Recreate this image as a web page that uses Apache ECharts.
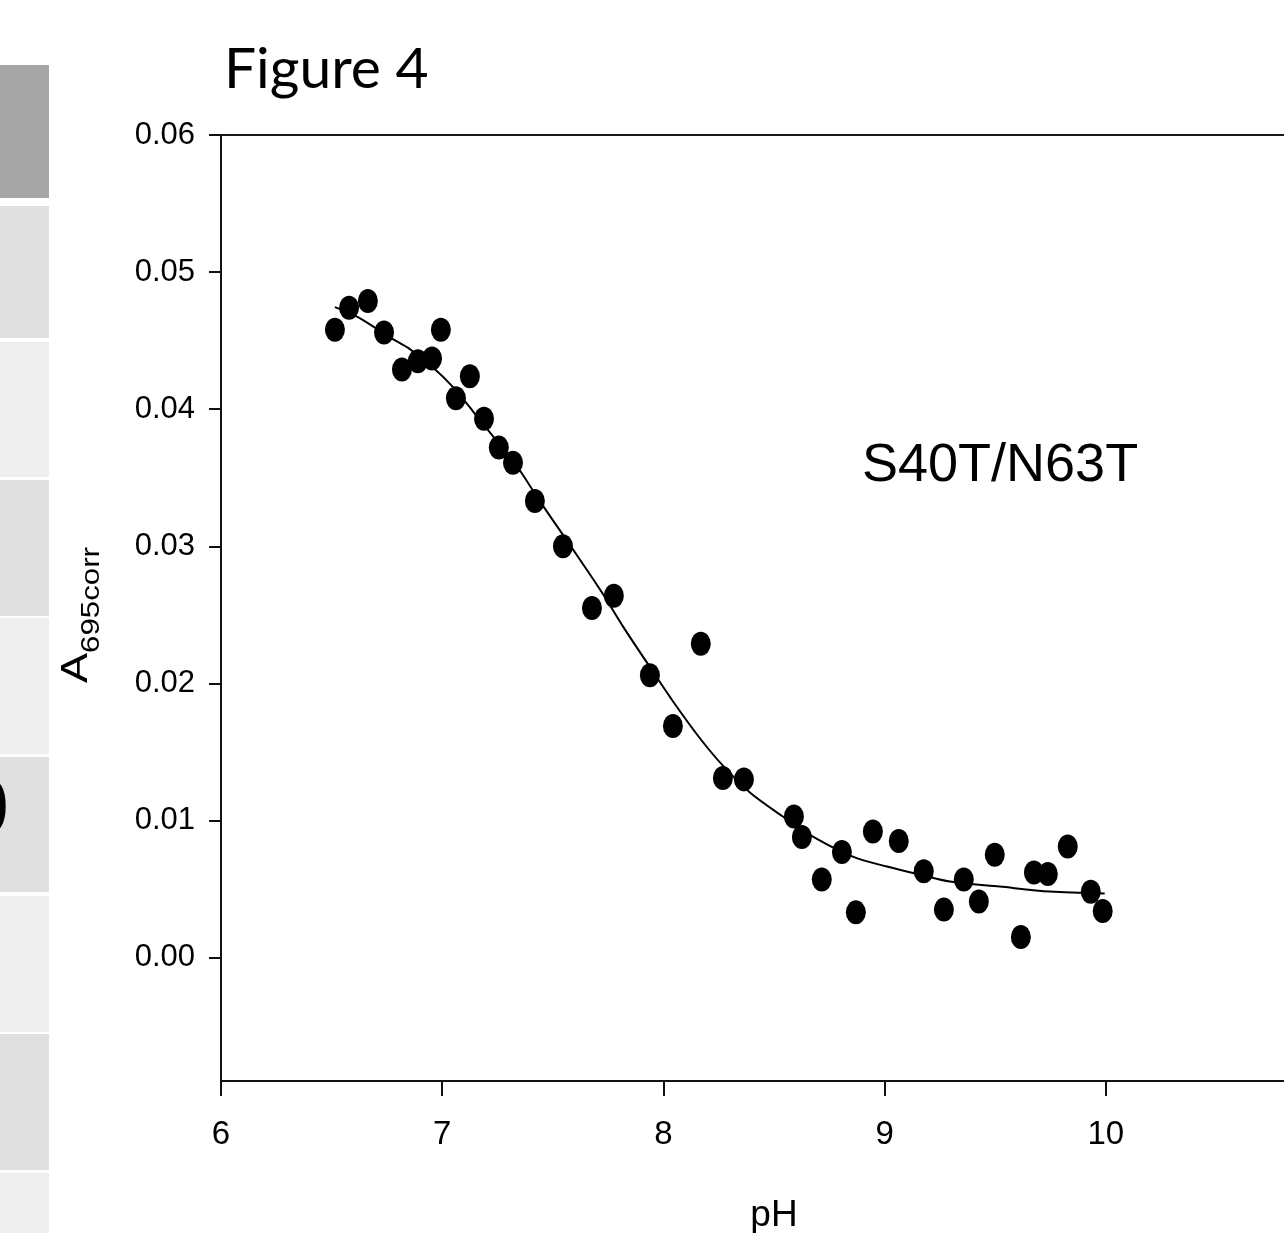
<!DOCTYPE html>
<html>
<head>
<meta charset="utf-8">
<script src="https://cdn.jsdelivr.net/npm/echarts@6/dist/echarts.min.js"></script>
<style>
  html, body { margin: 0; padding: 0; background: #fff; }
  #chart { width: 1284px; height: 1233px; }
</style>
</head>
<body>
<div id="chart"></div>
<script>
// measured points (pH, A695corr)
const phData = [6.515, 6.579, 6.664, 6.737, 6.818, 6.890, 6.954, 6.994, 7.062, 7.125,
  7.189, 7.256, 7.320, 7.419, 7.546, 7.677, 7.776, 7.939, 8.043, 8.169,
  8.269, 8.364, 8.590, 8.626, 8.716, 8.807, 8.870, 8.947, 9.064, 9.177,
  9.268, 9.358, 9.426, 9.498, 9.616, 9.675, 9.738, 9.828, 9.932, 9.986];
const absData = [0.0458, 0.0474, 0.0479, 0.0456, 0.0429, 0.0435, 0.0437, 0.0458, 0.0408, 0.0424,
  0.0393, 0.0372, 0.0361, 0.0333, 0.0300, 0.0255, 0.0264, 0.0206, 0.0169, 0.0229,
  0.0131, 0.0130, 0.0103, 0.0088, 0.0057, 0.0077, 0.0033, 0.0092, 0.0085, 0.0063,
  0.0035, 0.0057, 0.0041, 0.0075, 0.0015, 0.0062, 0.0061, 0.0081, 0.0048, 0.0034];

// fitted curve
const fitX = [6.515, 6.619, 6.777, 6.854, 6.967, 7.049, 7.139, 7.229, 7.338, 7.442,
  7.591, 7.722, 7.817, 7.925, 8.043, 8.165, 8.269, 8.391, 8.540, 8.676, 8.856,
  9.010, 9.159, 9.295, 9.521, 9.747, 9.995];
const fitY = [0.04745, 0.04672, 0.04511, 0.04438, 0.04292, 0.04161, 0.03985, 0.03803, 0.03584, 0.03328,
  0.02978, 0.02664, 0.02416, 0.02153, 0.01870, 0.01600, 0.01400, 0.01204, 0.01029, 0.00883, 0.00737,
  0.00664, 0.00606, 0.00555, 0.00518, 0.00482, 0.00467];

const xTicks = [6, 7, 8, 9, 10];
const yTicks = [0, 0.01, 0.02, 0.03, 0.04, 0.05, 0.06];

const sansFont = "'Liberation Sans', Arial, sans-serif";

// slide background strips on the left edge
const strips = [
  [65, 133, '#a6a6a6'], [206, 132, '#e0e0e0'], [342, 135, '#efefef'],
  [480, 136, '#e0e0e0'], [618, 136, '#efefef'], [757, 135, '#e0e0e0'],
  [896, 136, '#efefef'], [1034, 136, '#e0e0e0'], [1173, 60, '#efefef']
];

let chart = echarts.init(document.getElementById('chart'));

let graphics = strips.map(s => ({
  type: 'rect', z: 0,
  shape: { x: 0, y: s[0], width: 49, height: s[1] },
  style: { fill: s[2] }
}));
graphics.push(
  { type: 'text', x: 9, y: 811, z: 5,
    style: { text: '0', font: "bold 78px 'Liberation Sans', Arial", fill: '#000', align: 'right', verticalAlign: 'middle' } },
  { type: 'text', x: 224, y: 70, z: 5,
    style: { text: 'Figure 4', font: "57px Lato, 'Open Sans', sans-serif", fill: '#000', align: 'left', verticalAlign: 'middle' } },
  { type: 'text', x: 862, y: 466, z: 5,
    style: { text: 'S40T/N63T', font: "54px " + sansFont, fill: '#000', align: 'left', verticalAlign: 'middle' } },
  { type: 'text', x: 82, y: 615, z: 5, rotation: Math.PI / 2, scaleX: 1.25,
    style: {
      text: '{a|A}{s|695corr}', align: 'center', verticalAlign: 'middle',
      rich: {
        a: { fontSize: 36, fontFamily: sansFont, color: '#000', verticalAlign: 'bottom', padding: [0, 0, 10, 0] },
        s: { fontSize: 25, fontFamily: sansFont, color: '#000', verticalAlign: 'bottom' }
      }
    } }
);

let option = {
  backgroundColor: '#fff',
  animation: false,
  graphic: graphics,
  grid: {
    left: 221, top: 135, right: -43, bottom: 152,
    containLabel: false, outerBoundsMode: 'none',
    show: true, borderColor: '#1a1a1a', borderWidth: 2
  },
  xAxis: {
    type: 'value',
    min: 6, max: 11, interval: 1,
    name: 'pH', nameLocation: 'middle', nameGap: 116,
    nameTextStyle: { fontFamily: sansFont, fontSize: 37, color: '#000' },
    axisLine: { show: true, onZero: false, lineStyle: { color: '#111', width: 2 } },
    axisTick: { show: true, length: 15, lineStyle: { color: '#111', width: 2 }, customValues: xTicks },
    axisLabel: { margin: 37, fontFamily: sansFont, fontSize: 33, color: '#000', customValues: xTicks },
    splitLine: { show: false }
  },
  yAxis: {
    type: 'value',
    min: -0.009, max: 0.06,
    axisLine: { show: true, lineStyle: { color: '#111', width: 2 } },
    axisTick: { show: true, length: 12, lineStyle: { color: '#111', width: 2 }, customValues: yTicks },
    axisLabel: {
      margin: 26, fontFamily: sansFont, fontSize: 31, color: '#000', customValues: yTicks,
      formatter: v => v.toFixed(2)
    },
    splitLine: { show: false }
  },
  series: [
    {
      name: 'fit',
      type: 'line',
      data: fitX.map((x, i) => [x, fitY[i]]),
      smooth: 0.3,
      showSymbol: false,
      lineStyle: { color: '#000', width: 2 },
      z: 2
    },
    {
      name: 'S40T/N63T',
      type: 'scatter',
      data: phData.map((x, i) => [x, absData[i]]),
      symbol: 'circle',
      symbolSize: [20, 24],
      itemStyle: { color: '#000', opacity: 1 },
      z: 3
    }
  ]
};

chart.setOption(option);
</script>
</body>
</html>
